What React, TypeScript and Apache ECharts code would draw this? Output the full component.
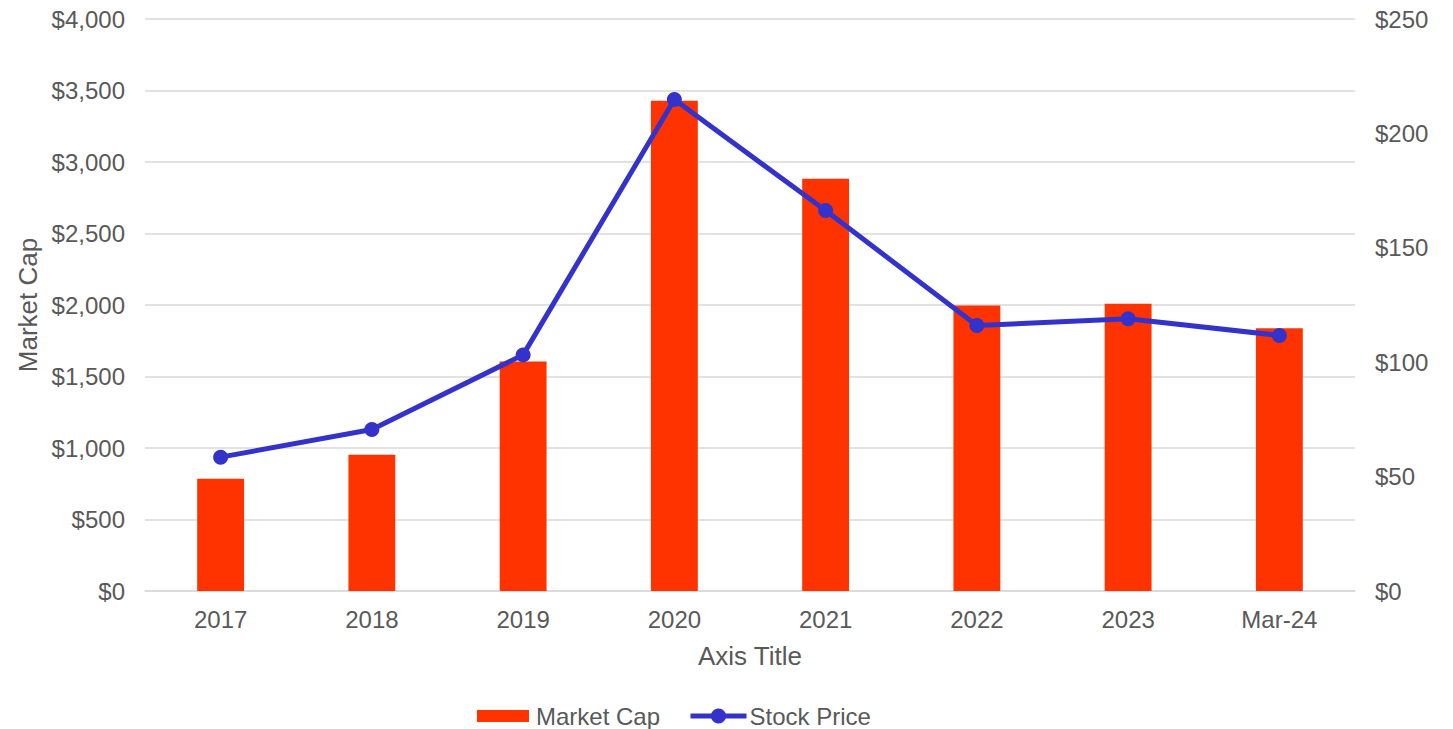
import React, { useEffect, useRef } from "react";
import * as echarts from "echarts";

const categories = ["2017", "2018", "2019", "2020", "2021", "2022", "2023", "Mar-24"];
const marketCap = [785, 952, 1605, 3428, 2882, 1997, 2009, 1838];
const stockPrice = [58.5, 70.6, 103.2, 214.8, 166.3, 116.0, 119.0, 111.7];

const fmt = (v: number) => "$" + v.toLocaleString("en-US");

export default function App() {
  const ref = useRef<HTMLDivElement>(null);
  useEffect(() => {
    document.body.style.margin = "0";
    const chart = echarts.init(ref.current!, null, { renderer: "svg" });
    const font = "'Liberation Sans', Arial, sans-serif";
    const fs = 24;
    const ts = 26;
    chart.setOption({
      animation: false,
      textStyle: { fontFamily: font, color: "#595959" },
      grid: { left: 145, right: 98, top: 19, bottom: 138 },
      legend: [
        {
          top: 704,
          left: 477,
          padding: 0,
          itemWidth: 52,
          itemHeight: 12,
          textStyle: { fontFamily: font, fontSize: fs, color: "#595959", padding: [0, 0, 0, 2] },
          data: [{ name: "Market Cap", icon: "rect" }],
        },
        {
          top: 704,
          left: 688,
          padding: 0,
          itemWidth: 56,
          itemHeight: 19,
          textStyle: { fontFamily: font, fontSize: fs, color: "#595959", padding: [0, 0, 0, -2] },
          data: [{ name: "Stock Price", lineStyle: { width: 5 } }],
        },
      ],
      xAxis: {
        type: "category",
        data: categories,
        name: "Axis Title",
        nameLocation: "middle",
        nameGap: 52,
        nameTextStyle: { fontSize: ts, color: "#595959", fontFamily: font },
        axisTick: { show: false },
        axisLine: { lineStyle: { color: "#d9d9d9", width: 1.5 } },
        axisLabel: { fontSize: fs, color: "#595959", margin: 16, fontFamily: font },
      },
      yAxis: [
        {
          type: "value",
          min: 0,
          max: 4000,
          interval: 500,
          name: "Market Cap",
          nameLocation: "middle",
          nameGap: 103,
          nameTextStyle: { fontSize: ts, color: "#595959", fontFamily: font },
          axisLabel: { formatter: fmt, fontSize: fs, color: "#595959", margin: 20, fontFamily: font },
          splitLine: { lineStyle: { color: "#d9d9d9", width: 1.5 } },
          axisLine: { show: false },
          axisTick: { show: false },
        },
        {
          type: "value",
          min: 0,
          max: 250,
          interval: 50,
          position: "right",
          axisLabel: { formatter: fmt, fontSize: fs, color: "#595959", margin: 20, fontFamily: font },
          splitLine: { show: false },
          axisLine: { show: false },
          axisTick: { show: false },
        },
      ],
      series: [
        {
          name: "Market Cap",
          type: "bar",
          data: marketCap,
          barWidth: "31%",
          itemStyle: { color: "#FF3300" },
          yAxisIndex: 0,
        },
        {
          name: "Stock Price",
          type: "line",
          data: stockPrice,
          yAxisIndex: 1,
          symbol: "circle",
          symbolSize: 15,
          lineStyle: { color: "#3333CC", width: 5 },
          itemStyle: { color: "#3333CC" },
        },
      ],
    });
    return () => chart.dispose();
  }, []);
  return <div ref={ref} style={{ width: 1453, height: 729 }} />;
}
